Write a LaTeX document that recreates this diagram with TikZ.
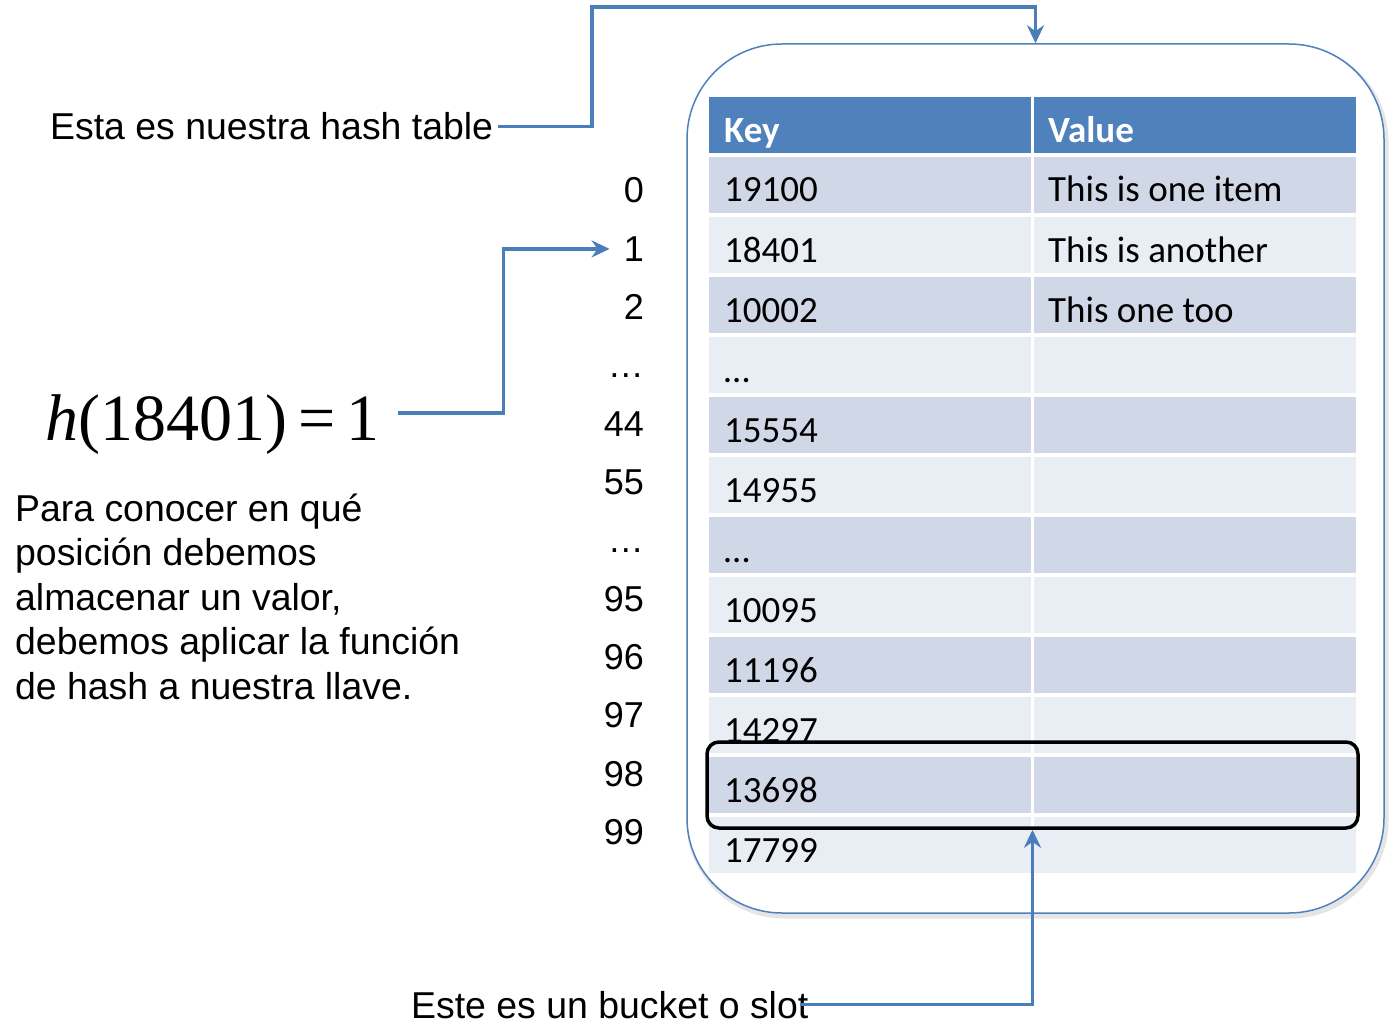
\documentclass[tikz,border=0pt]{standalone}
\usepackage{fontspec}
\setmainfont{Liberation Sans}
\newfontfamily\calfont{Carlito}
\newfontfamily\timesfont{Liberation Serif}
\usetikzlibrary{arrows.meta}
\definecolor{hdr}{HTML}{4F81BD}
\definecolor{rowA}{HTML}{D0D8E8}
\definecolor{rowB}{HTML}{E9EDF4}
\definecolor{arrc}{HTML}{4A7EBB}
\begin{document}
\begin{tikzpicture}[x=1pt,y=-1pt,
  arr/.style={draw=arrc, line width=3.5pt, -{Stealth[length=18pt,width=17pt]}},
  lbl/.style={font=\fontsize{37.4}{44.5}\selectfont, inner sep=0pt, anchor=base west},
  idx/.style={font=\fontsize{36}{36}\selectfont, inner sep=0pt, anchor=base east},
  cell/.style={font=\calfont\fontsize{37}{37}\selectfont, inner sep=0pt, anchor=base west},
  hcell/.style={font=\calfont\bfseries\fontsize{37}{37}\selectfont, text=white, inner sep=0pt, anchor=base west},
  contbox/.style={rounded corners=95pt, minimum width=697pt, minimum height=869pt, inner sep=0pt},
]
\useasboundingbox (0,0) rectangle (1393,1035);

% container with soft shadow
\node[contbox, draw=black!10, line width=5pt] (boxshadow) at (1037.5,481.5) {};
\node[contbox, draw=hdr, fill=white, line width=1.5pt] (box) at (1035.5,478.5) {};

% table
\fill[hdr] (709,97) rectangle (1031,153);
\fill[hdr] (1034,97) rectangle (1356,153);
\foreach \k in {1,...,12}{
  \pgfmathtruncatemacro\t{97+60*\k}
  \ifodd\k \def\rc{rowA}\else\def\rc{rowB}\fi
  \fill[\rc] (709,\t) rectangle (1031,\t+56);
  \fill[\rc] (1034,\t) rectangle (1356,\t+56);
}
\node[hcell] (hkey) at (724,143) {Key};
\node[hcell] (hval) at (1048,143) {Value};
\foreach \v [count=\k] in {19100,18401,10002,…,15554,14955,…,10095,11196,14297,13698,17799}{
  \node[cell] (key\k) at (724,142+60*\k) {\v};
}
\node[cell] (val1) at (1048,202) {This is one item};
\node[cell] (val2) at (1048,262) {This is another};
\node[cell] (val3) at (1048,322) {This one too};

% index column
\foreach \v [count=\k] in {0,1,2,…,44,55,…,95,96,97,98,99}{
  \node[idx] (ix\k) at (644,144.7+58.3*\k) {\v};
}

% bucket highlight
\node[draw=black, line width=3.5pt, rounded corners=12pt, minimum width=651pt, minimum height=86pt, inner sep=0pt] (bk) at (1032.5,785) {};

% labels
\node[lbl] (t1) at (50,140) {Esta es nuestra hash table};
\node[inner sep=0pt, anchor=base west, font=\timesfont\fontsize{66}{66}\selectfont] (f) at (45,440) {\textit{h}(18401)\,=\,1};
\node[lbl] (p1) at (15,521) {Para conocer en qué};
\node[lbl] (p2) at (15,565.5) {posición debemos};
\node[lbl] (p3) at (15,610) {almacenar un valor,};
\node[lbl] (p4) at (15,654.5) {debemos aplicar la función};
\node[lbl] (p5) at (15,699) {de hash a nuestra llave.};
\node[lbl] (t3) at (411,1018) {Este es un bucket o slot};

% arrows
\draw[arr] ([xshift=5pt]t1.east) -| (592,7) -| (box.north);
\draw[arr] ([xshift=18pt,yshift=27pt]f.base east) -- ++(106,0) |- ([xshift=-14pt]ix2.west);
\draw[arr] ([xshift=-8pt]t3.east) -| (bk.south);
\end{tikzpicture}
\end{document}
